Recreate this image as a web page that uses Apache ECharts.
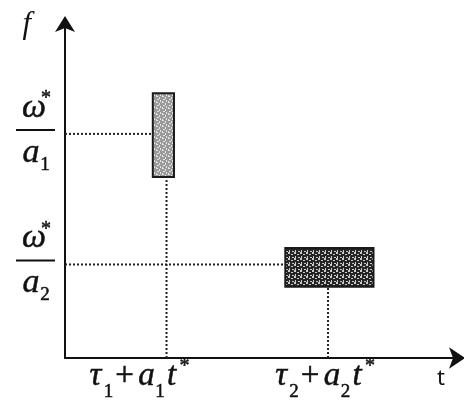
<!DOCTYPE html>
<html>
<head>
<meta charset="utf-8">
<script src="https://cdn.jsdelivr.net/npm/echarts@6/dist/echarts.min.js"></script>
<style>
  html, body { margin: 0; padding: 0; background: #fff; }
  #chart { width: 464px; height: 406px; }
</style>
</head>
<body>
<div id="chart"></div>
<script>
// Frequency levels on the f axis: ω*/a1 and ω*/a2
const fLevels = [6.71, 2.8];
const fSubscripts = ['1', '2'];
// Time points on the t axis: τ1 + a1·t* and τ2 + a2·t*
const tPoints = [2.59, 6.71];
const tSubscripts = ['1', '2'];
// Resource blocks: time span [blockT0, blockT1], frequency span [blockF0, blockF1]
const blockT0 = [2.24, 5.62];
const blockT1 = [2.78, 7.87];
const blockF0 = [5.42, 2.13];
const blockF1 = [7.93, 3.29];
const axisNames = ['t', 'f'];

const INK = '#111';
const SERIF = '"Liberation Serif", "DejaVu Serif", serif';

// Stippled fills for the two blocks
function stipple(bg, dot, spots, size) {
  const c = document.createElement('canvas');
  c.width = size; c.height = size;
  const g = c.getContext('2d');
  g.fillStyle = bg; g.fillRect(0, 0, size, size);
  g.fillStyle = dot;
  spots.forEach(s => g.fillRect(s[0], s[1], s[2], s[3]));
  return { image: c, repeat: 'repeat' };
}
const lightFill = stipple('#9a9a9a', '#e4e4e4',
  [[0, 0, 2, 1], [3, 1, 1, 2], [1, 3, 2, 1], [4, 4, 1, 2], [0, 5, 1, 1]], 6);
const darkFill = stipple('#242424', '#cccccc',
  [[0, 0, 2, 2], [3, 2, 2, 1], [1, 4, 1, 2], [4, 5, 2, 1]], 6);
const blockFills = [lightFill, darkFill];

function txt(text, x, y, font) {
  return {
    type: 'text', x: x, y: y,
    style: {
      text: text, font: font, fill: INK, textFill: INK,
      stroke: INK, textStroke: INK, lineWidth: 0.5, textStrokeWidth: 0.5,
      align: 'center', verticalAlign: 'middle',
      textAlign: 'center', textVerticalAlign: 'middle'
    }
  };
}
const italic = s => 'italic ' + s + 'px ' + SERIF;
const upright = s => s + 'px ' + SERIF;

// Dotted guides from each axis to the block's reference point
const guideSeries = [];
fLevels.forEach((f, i) => {
  const t = tPoints[i];
  [[[0, f], [t, f]], [[t, 0], [t, f]]].forEach(seg => {
    guideSeries.push({
      type: 'line', data: seg, symbol: 'none', z: 1, silent: true,
      lineStyle: { color: '#222', width: 2, type: [2, 2] }
    });
  });
});

// Horizontal nudge of each t-axis label relative to its tick
const tLabelShift = [-42, -18];

const option = {
  animation: false,
  backgroundColor: '#fff',
  grid: { left: 65, right: 7, top: 24, bottom: 48, containLabel: false },
  xAxis: {
    type: 'value', min: 0, max: 10,
    name: axisNames[0], nameLocation: 'end', nameGap: -16,
    nameTextStyle: {
      fontFamily: 'Noto Sans', fontSize: 22, color: INK,
      align: 'center', verticalAlign: 'top', padding: [10, 0, 0, 0]
    },
    axisLine: {
      lineStyle: { color: INK, width: 2 },
      symbol: ['none', 'arrow'], symbolSize: [16, 16], symbolOffset: [0, 8]
    },
    axisTick: { show: false }, axisLabel: { show: false }, splitLine: { show: false }
  },
  yAxis: {
    type: 'value', min: 0, max: 10,
    name: axisNames[1], nameLocation: 'end', nameGap: -1,
    nameTextStyle: {
      fontFamily: 'Liberation Serif', fontStyle: 'italic', fontSize: 31, color: INK,
      align: 'right', verticalAlign: 'middle', padding: [0, 34, 0, 0]
    },
    axisLine: {
      lineStyle: { color: INK, width: 2 },
      symbol: ['none', 'arrow'], symbolSize: [15, 16], symbolOffset: [0, 8]
    },
    axisTick: { show: false }, axisLabel: { show: false }, splitLine: { show: false }
  },
  series: guideSeries.concat([
    {
      type: 'custom', z: 3, silent: true,
      data: blockT0.map((t0, i) => [t0, blockF0[i], blockT1[i], blockF1[i]]),
      renderItem: function (params, api) {
        const p0 = api.coord([api.value(0), api.value(3)]);
        const p1 = api.coord([api.value(2), api.value(1)]);
        return {
          type: 'rect',
          shape: { x: p0[0], y: p0[1], width: p1[0] - p0[0], height: p1[1] - p0[1] },
          style: { fill: blockFills[params.dataIndex], stroke: '#1a1a1a', lineWidth: 2 }
        };
      }
    },
    {
      // f-axis labels as stacked fractions ω*/a_i
      type: 'custom', z: 4, silent: true,
      data: fLevels.map(f => [0, f]),
      renderItem: function (params, api) {
        const p = api.coord([0, api.value(1)]);
        const cx = p[0] - 30, y = p[1];
        return {
          type: 'group',
          children: [
            txt('ω', cx - 1, y - 26, italic(34)),
            txt('*', cx + 11, y - 35, upright(20)),
            {
              type: 'line',
              shape: { x1: cx - 19, y1: y - 4, x2: cx + 20, y2: y - 4 },
              style: { stroke: INK, lineWidth: 2 }
            },
            txt('a', cx - 4, y + 19, italic(34)),
            txt(fSubscripts[params.dataIndex], cx + 10, y + 31, upright(19))
          ]
        };
      }
    },
    {
      // t-axis labels τ_i + a_i t*
      type: 'custom', z: 4, silent: true,
      data: tPoints.map(t => [t, 0]),
      renderItem: function (params, api) {
        const i = params.dataIndex;
        const p = api.coord([api.value(0), 0]);
        const c = p[0] + tLabelShift[i], y = p[1];
        const sub = tSubscripts[i];
        return {
          type: 'group',
          children: [
            txt('τ', c - 29, y + 18, italic(33)),
            txt(sub, c - 16, y + 34, upright(19)),
            txt('+', c, y + 18, upright(33)),
            txt('a', c + 22, y + 18, italic(33)),
            txt(sub, c + 35.5, y + 34, upright(19)),
            txt('t', c + 47, y + 18, italic(33)),
            txt('*', c + 60, y + 9, upright(20))
          ]
        };
      }
    }
  ])
};

const chart = echarts.init(document.getElementById('chart'), null, { renderer: 'canvas' });
chart.setOption(option);
</script>
</body>
</html>
